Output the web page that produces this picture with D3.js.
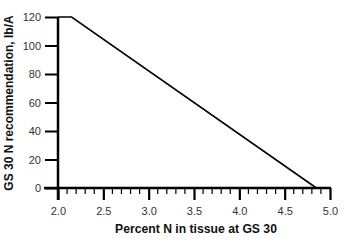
<!DOCTYPE html>
<html><head><meta charset="utf-8">
<script src="https://cdn.jsdelivr.net/npm/d3@7"></script>
<style>body{margin:0;background:#fff}text{font-family:"Liberation Sans",Arial,sans-serif}</style>
</head><body><svg id="c" width="350" height="252"></svg>
<script>
const xVals = [2.0, 2.15, 4.85];
const yVals = [120, 120, 0];
const xTicks = [2.0, 2.5, 3.0, 3.5, 4.0, 4.5, 5.0];
const xMinor = [2.1,2.2,2.3,2.4,2.6,2.7,2.8,2.9,3.1,3.2,3.3,3.4,3.6,3.7,3.8,3.9,4.1,4.2,4.3,4.4,4.6,4.7,4.8,4.9];
const yTicks = [0, 20, 40, 60, 80, 100, 120];
const xTitle = "Percent N in tissue at GS 30";
const yTitle = "GS 30 N recommendation, lb/A";

const svg = d3.select("#c");
const x = d3.scaleLinear().domain([2, 5]).range([58, 330]);
const y = d3.scaleLinear().domain([0, 120]).range([188, 17]);

// x axis
const gx = svg.append("g").attr("transform", `translate(0,${y(0)})`);
gx.call(d3.axisBottom(x).tickValues(xTicks).tickSize(12).tickPadding(7).tickFormat(d3.format(".1f")));
gx.select(".domain").remove();
gx.selectAll(".tick line").attr("stroke", "#000").attr("stroke-width", 2.2);
gx.selectAll(".tick text").attr("font-size", 11).attr("fill", "#333");
gx.selectAll(".minor").data(xMinor).enter().append("line")
  .attr("x1", d => x(d)).attr("x2", d => x(d)).attr("y1", 0).attr("y2", 6)
  .attr("stroke", "#000").attr("stroke-width", 1.2);
gx.append("line").attr("x1", x(2) - 14).attr("x2", x(5) + 1).attr("y1", 0).attr("y2", 0)
  .attr("stroke", "#000").attr("stroke-width", 2.5);

// y axis
const gy = svg.append("g").attr("transform", `translate(${x(2)},0)`);
gy.call(d3.axisLeft(y).tickValues(yTicks).tickSize(13).tickPadding(4));
gy.select(".domain").remove();
gy.selectAll(".tick line").attr("stroke", "#000").attr("stroke-width", 2);
gy.selectAll(".tick text").attr("font-size", 11).attr("fill", "#333");
gy.append("line").attr("x1", 0).attr("x2", 0).attr("y1", y(120)).attr("y2", y(0) + 12)
  .attr("stroke", "#000").attr("stroke-width", 2.5);

// data line
const pts = xVals.map((v, i) => [v, yVals[i]]);
svg.append("path").datum(pts)
  .attr("d", d3.line().x(d => x(d[0])).y(d => y(d[1])))
  .attr("fill", "none").attr("stroke", "#000").attr("stroke-width", 1.6);

// titles
svg.append("text").attr("x", 196).attr("y", 233).attr("text-anchor", "middle")
  .attr("font-size", 12.2).attr("font-weight", "bold").attr("fill", "#111").text(xTitle);
svg.append("text").attr("transform", "translate(13,103) rotate(-90)").attr("text-anchor", "middle")
  .attr("font-size", 12).attr("font-weight", "bold").attr("fill", "#111").text(yTitle);
</script></body></html>
